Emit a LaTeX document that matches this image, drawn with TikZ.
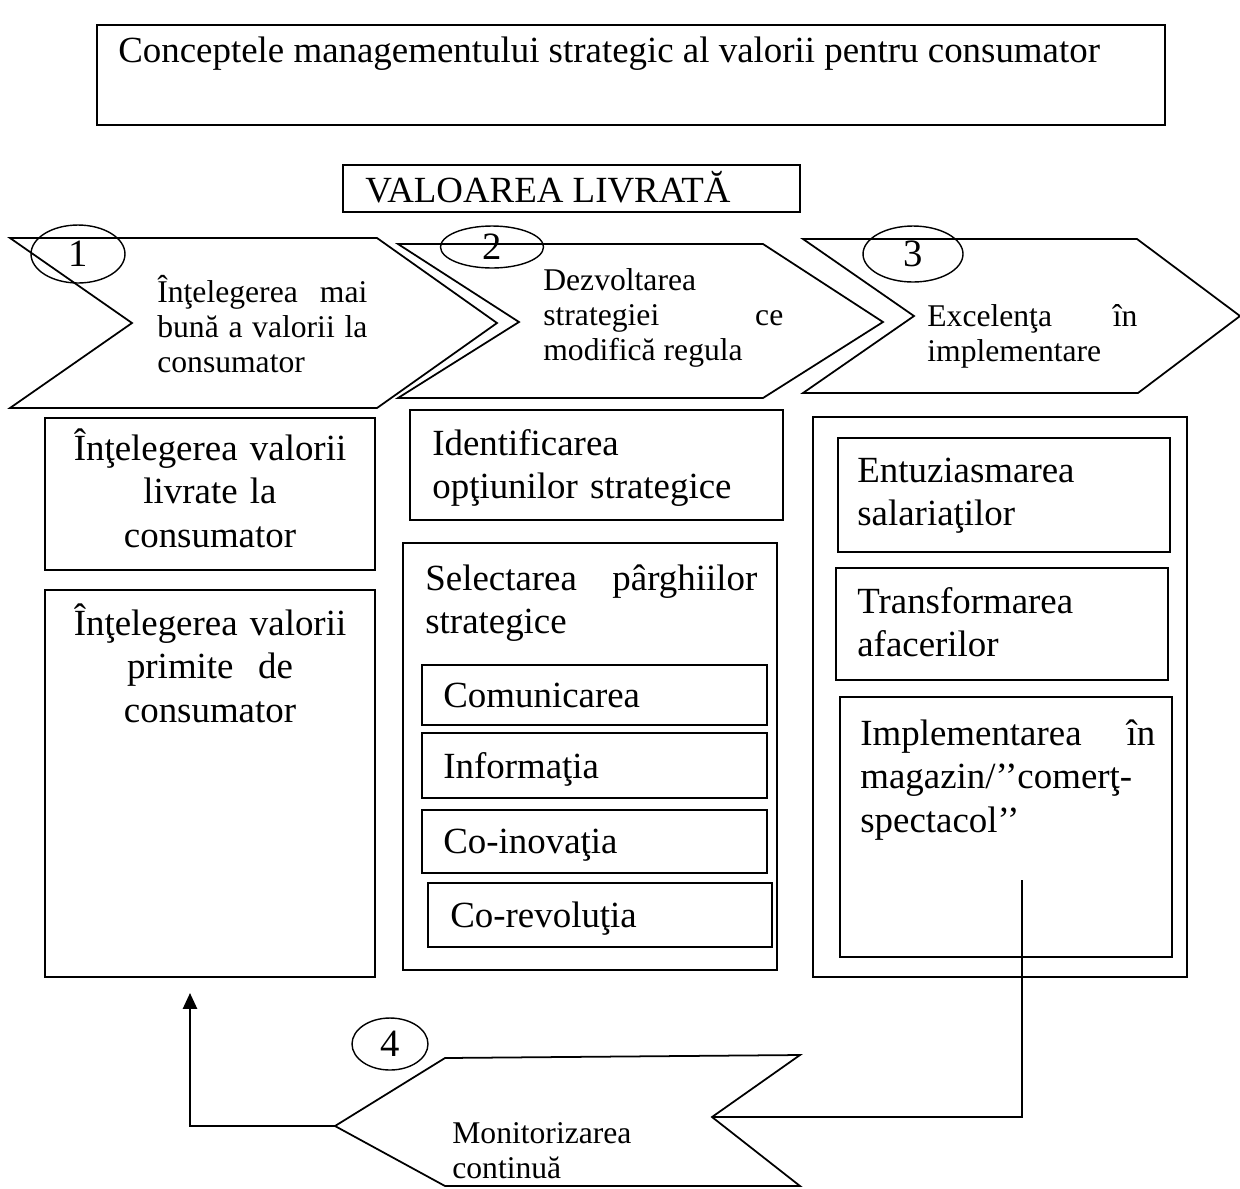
\documentclass[tikz,border=0pt]{standalone}
\usepackage{fontspec}
\setmainfont{Liberation Serif}
\usetikzlibrary{arrows.meta,shapes.geometric,fit}
\hyphenpenalty=10000
\exhyphenpenalty=10000

\tikzset{
  lbl/.style={inner sep=0pt, anchor=base west, align=left, font=\fontsize{21}{25}\selectfont},
  lblc/.style={lbl, anchor=base, align=center},
  chev/.style={line width=1pt, line join=miter},
  chevtxt/.style={inner sep=0pt, anchor=base west, align=justify, font=\fontsize{18}{20}\selectfont},
  box/.style={draw, line width=1pt, inner sep=0pt},
  stepno/.style={draw, ellipse, line width=0.8pt, inner sep=0pt, font=\fontsize{22}{26}\selectfont},
}

\begin{document}
\begin{tikzpicture}[x=0.02cm,y=-0.02cm]
    \useasboundingbox (0,0) rectangle (1240,1188);

    % title
    \node[box, fit={(97,25) (1165,125)}] (titlebox) {};
    \node[lbl] (title) at (118,62) {Conceptele managementului strategic al valorii pentru consumator};
    \node[box, fit={(343,165) (800,212)}] (livbox) {};
    \node[lbl] (livtitle) at (365,202) {VALOAREA LIVRATĂ};

    % chevrons
    \draw[chev] (10,238) -- (377,238) -- (497,323) -- (377,408) -- (10,408) -- (132,323) -- cycle;
    \draw[chev] (398,244) -- (763,244) -- (883,322) -- (763,398) -- (398,398) -- (519,322) -- cycle;
    \draw[chev] (803,239) -- (1137,239) -- (1240,316) -- (1138,393) -- (803,393) -- (914,316) -- cycle;
    \coordinate (c4tip) at (335,1126);
    \coordinate (c4notch) at (712,1117);
    \draw[chev] (c4tip) -- (445,1058) -- (800,1055) -- (c4notch) -- (800,1186) -- (445,1186) -- cycle;

    \node[stepno, minimum width=1.88cm, minimum height=1.16cm] (n1) at (78,254) {1};
    \node[stepno, minimum width=2.06cm, minimum height=0.84cm] (n2) at (492,247) {2};
    \node[stepno, minimum width=2.0cm, minimum height=1.12cm] (n3) at (913,254) {3};
    \node[stepno, minimum width=1.52cm, minimum height=1.04cm] (n4) at (390,1044) {4};

    \node[chevtxt, text width=4.2cm] (c1txt) at (157,302)
      {Înţelegerea mai\linebreak bună a valorii la\linebreak consumator};
    \node[chevtxt, text width=4.8cm] (c2txt) at (543,290)
      {Dezvoltarea\\ strategiei ce\linebreak modifică regula};
    \node[chevtxt, text width=4.2cm] (c3txt) at (927,326)
      {Excelenţa în\linebreak implementare};
    \node[chevtxt, text width=4.2cm, align=left] (c4txt) at (452,1143) {Monitorizarea\\ continuă};

    % left column
    \node[box, fit={(45,418) (375,570)}] (livrat) {};
    \node[lblc, text width=6cm] (livrattxt) at (210,460) {Înţelegerea valorii\\ livrate la\\ consumator};
    \node[box, fit={(45,590) (375,977)}] (primit) {};
    \node[lblc, text width=6cm] (primittxt) at (210,635) {Înţelegerea valorii\\ primite\ \ de\\ consumator};

    % middle column
    \node[box, fit={(410,410) (783,520)}] (ident) {};
    \node[lbl, text width=6.6cm] (identtxt) at (432,455) {Identificarea\\ opţiunilor strategice};
    \node[box, fit={(403,543) (777,970)}] (select) {};
    \node[lbl, text width=6.64cm, align=justify] (selecttxt) at (425,590) {Selectarea pârghiilor\linebreak strategice};
    \node[box, fit={(422,665) (767,725)}] (comunic) {};
    \node[lbl] (comunictxt) at (443,707) {Comunicarea};
    \node[box, fit={(422,733) (767,798)}] (inform) {};
    \node[lbl] (informtxt) at (443,778) {Informaţia};
    \node[box, fit={(422,810) (767,873)}] (coinov) {};
    \node[lbl] (coinovtxt) at (443,853) {Co-inovaţia};
    \node[box, fit={(428,883) (772,947)}] (corev) {};
    \node[lbl] (corevtxt) at (450,927) {Co-revoluţia};

    % right column
    \node[box, fit={(813,417) (1187,977)}] (excel) {};
    \node[box, fit={(838,438) (1170,552)}] (entuz) {};
    \node[lbl, text width=6cm] (entuztxt) at (857,482) {Entuziasmarea\\ salariaţilor};
    \node[box, fit={(836,568) (1168,680)}] (transf) {};
    \node[lbl, text width=6cm] (transftxt) at (857,613) {Transformarea\\ afacerilor};
    \node[box, fit={(840,697) (1172,957)}] (implem) {};
    \node[lbl, text width=5.9cm, align=justify] (implemtxt) at (860,745)
      {Implementarea în\linebreak magazin/’’comerţ-\\ spectacol’’};

    % connectors
    \coordinate (implfoot) at (1022,880);
    \draw[line width=1pt] (implfoot) |- (c4notch);
    \coordinate (primtip) at (190,993);
    \draw[line width=1.2pt, -{Triangle[width=8pt,length=9pt]}] (c4tip) -| (primtip);
\end{tikzpicture}
\end{document}
